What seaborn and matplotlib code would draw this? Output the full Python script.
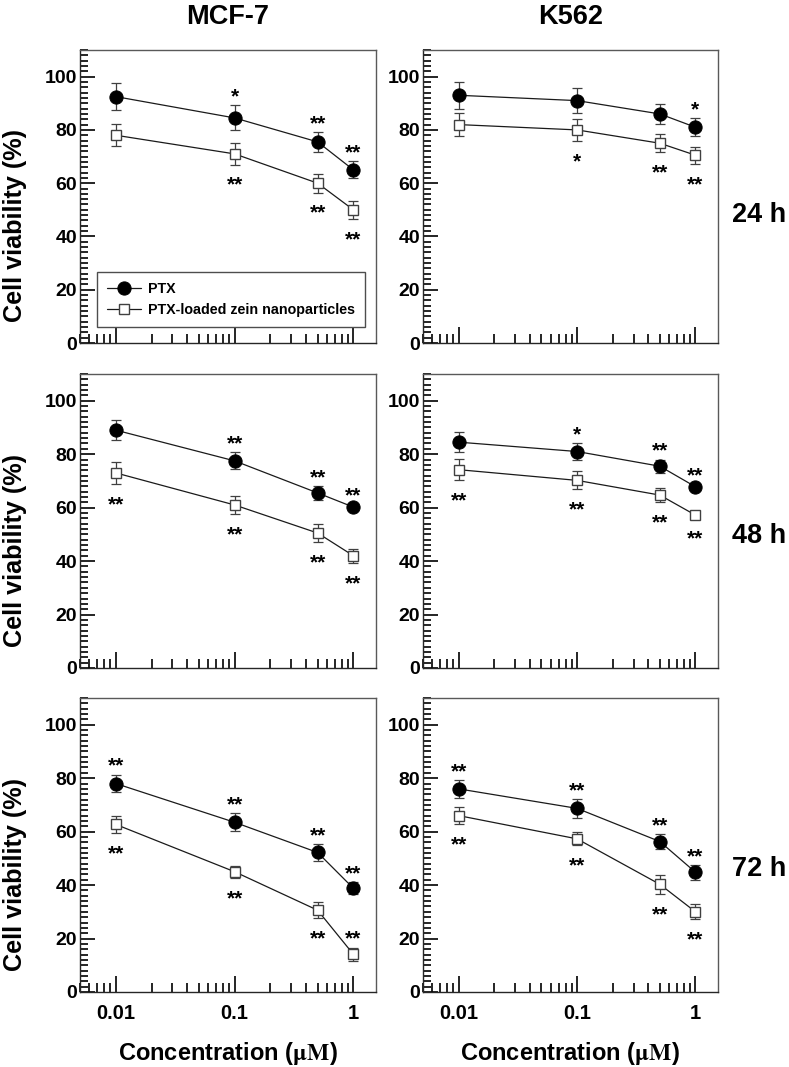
import numpy as np
import matplotlib
matplotlib.use("Agg")
import matplotlib.pyplot as plt
import seaborn as sns
from matplotlib.ticker import MultipleLocator, LogLocator, NullFormatter

# concentrations (uM)
conc = [0.01, 0.1, 0.5, 1]
conc_ticks = [0.01, 0.1, 1]
conc_labels = ["0.01", "0.1", "1"]

cell_lines = ["MCF-7", "K562"]
times = ["24 h", "48 h", "72 h"]
series_names = ["PTX", "PTX-loaded zein nanoparticles"]

# cell viability (%), mean and error
ptx_mcf7_24 = [92.5, 84.5, 75.5, 65.0]
ptx_mcf7_24_err = [5.0, 4.7, 3.8, 3.2]
np_mcf7_24 = [78.0, 71.0, 60.0, 50.0]
np_mcf7_24_err = [4.2, 4.0, 3.5, 3.3]
ptx_k562_24 = [93.0, 91.0, 86.0, 81.0]
ptx_k562_24_err = [5.0, 4.7, 3.8, 3.3]
np_k562_24 = [82.0, 80.0, 75.0, 70.5]
np_k562_24_err = [4.3, 4.0, 3.4, 3.2]

ptx_mcf7_48 = [89.0, 77.5, 65.5, 60.2]
ptx_mcf7_48_err = [3.7, 3.2, 2.6, 1.0]
np_mcf7_48 = [73.0, 61.0, 50.5, 42.0]
np_mcf7_48_err = [4.0, 3.4, 3.4, 2.6]
ptx_k562_48 = [84.5, 81.0, 75.5, 67.8]
ptx_k562_48_err = [3.7, 3.2, 2.5, 1.0]
np_k562_48 = [74.2, 70.2, 64.7, 57.2]
np_k562_48_err = [4.0, 3.4, 2.5, 1.0]

ptx_mcf7_72 = [78.0, 63.5, 52.2, 38.8]
ptx_mcf7_72_err = [3.3, 3.4, 3.0, 2.3]
np_mcf7_72 = [62.7, 45.0, 30.6, 14.1]
np_mcf7_72_err = [3.2, 2.2, 2.9, 2.5]
ptx_k562_72 = [76.0, 68.7, 56.3, 44.8]
ptx_k562_72_err = [3.3, 3.5, 2.8, 2.8]
np_k562_72 = [66.0, 57.3, 40.3, 30.0]
np_k562_72_err = [3.3, 2.4, 3.6, 2.8]

# significance marks (above PTX, below nanoparticles)
stars_ptx_mcf7_24 = ["", "*", "**", "**"]
stars_np_mcf7_24 = ["", "**", "**", "**"]
stars_ptx_k562_24 = ["", "", "", "*"]
stars_np_k562_24 = ["", "*", "**", "**"]
stars_ptx_mcf7_48 = ["", "**", "**", "**"]
stars_np_mcf7_48 = ["**", "**", "**", "**"]
stars_ptx_k562_48 = ["", "*", "**", "**"]
stars_np_k562_48 = ["**", "**", "**", "**"]
stars_ptx_mcf7_72 = ["**", "**", "**", "**"]
stars_np_mcf7_72 = ["**", "**", "**", "**"]
stars_ptx_k562_72 = ["**", "**", "**", "**"]
stars_np_k562_72 = ["**", "**", "**", "**"]

panels = [
    [(ptx_mcf7_24, ptx_mcf7_24_err, stars_ptx_mcf7_24, np_mcf7_24, np_mcf7_24_err, stars_np_mcf7_24),
     (ptx_k562_24, ptx_k562_24_err, stars_ptx_k562_24, np_k562_24, np_k562_24_err, stars_np_k562_24)],
    [(ptx_mcf7_48, ptx_mcf7_48_err, stars_ptx_mcf7_48, np_mcf7_48, np_mcf7_48_err, stars_np_mcf7_48),
     (ptx_k562_48, ptx_k562_48_err, stars_ptx_k562_48, np_k562_48, np_k562_48_err, stars_np_k562_48)],
    [(ptx_mcf7_72, ptx_mcf7_72_err, stars_ptx_mcf7_72, np_mcf7_72, np_mcf7_72_err, stars_np_mcf7_72),
     (ptx_k562_72, ptx_k562_72_err, stars_ptx_k562_72, np_k562_72, np_k562_72_err, stars_np_k562_72)],
]

sns.set_theme(style="ticks")
plt.rcParams["font.family"] = ["Liberation Sans", "DejaVu Sans"]
plt.rcParams["font.weight"] = "bold"
plt.rcParams["mathtext.fontset"] = "stix"
for key in ["text.color", "axes.labelcolor", "xtick.color", "ytick.color",
            "xtick.labelcolor", "ytick.labelcolor"]:
    plt.rcParams[key] = "black"

W, H = 789, 1067
fig = plt.figure(figsize=(W / 100, H / 100), dpi=100)

col_x = [(80, 296), (423, 295)]
row_y = [(50, 293), (374, 294), (698, 294)]
label_y = [222, 543, 876]


def add_stars(ax, vals, errs, stars, above):
    for x, v, e, s in zip(conc, vals, errs, stars):
        if not s:
            continue
        if above or v - e < 20:
            # marks for points near the floor also go over the bar
            ax.annotate(s, (x, v + e), xytext=(0, 6), textcoords="offset points",
                        ha="center", va="center", fontsize=15, fontweight="bold")
        else:
            ax.annotate(s, (x, v - e), xytext=(0, -15), textcoords="offset points",
                        ha="center", va="center", fontsize=15, fontweight="bold")


for r, row in enumerate(panels):
    for c, (p, pe, ps, n, ne, ns) in enumerate(row):
        x0, w = col_x[c]
        y0, h = row_y[r]
        ax = fig.add_axes([x0 / W, 1 - (y0 + h) / H, w / W, h / H])
        ax.set_xscale("log")

        ax.errorbar(conc, p, yerr=pe, fmt="none", ecolor="0.25", elinewidth=0.9,
                    capsize=3.5, capthick=0.9, zorder=2)
        ax.errorbar(conc, n, yerr=ne, fmt="none", ecolor="0.25", elinewidth=0.9,
                    capsize=3.5, capthick=0.9, zorder=2)
        sns.lineplot(x=conc, y=p, ax=ax, color="0.1", lw=0.9, marker="o",
                     markersize=9.5, markerfacecolor="black", markeredgecolor="black",
                     label=series_names[0] if (r, c) == (0, 0) else None,
                     legend=False, zorder=3)
        sns.lineplot(x=conc, y=n, ax=ax, color="0.1", lw=0.9, marker="s",
                     markersize=7.5, markerfacecolor="white", markeredgecolor="0.25",
                     markeredgewidth=1.0,
                     label=series_names[1] if (r, c) == (0, 0) else None,
                     legend=False, zorder=3)
        add_stars(ax, p, pe, ps, True)
        add_stars(ax, n, ne, ns, False)

        ax.set_xlim(0.005, 1.55)
        ax.set_ylim(0, 110)
        ax.set_xticks(conc_ticks)
        ax.xaxis.set_minor_locator(LogLocator(base=10, subs=np.arange(2, 10)))
        ax.xaxis.set_minor_formatter(NullFormatter())
        if r == 2:
            ax.set_xticklabels(conc_labels)
            ax.set_xlabel(r"Concentration ($\mathrm{\mu M}$)", fontsize=17,
                          fontweight="bold")
            ax.xaxis.set_label_coords(0.5, -0.163)
            ax.xaxis.label.set_va("top")
        else:
            ax.set_xticklabels([])
        ax.set_yticks(range(0, 101, 20))
        ax.yaxis.set_minor_locator(MultipleLocator(2))
        ax.tick_params(axis="both", which="both", direction="in", top=False,
                       right=False, color="black")
        ax.tick_params(axis="y", which="major", length=11, width=1.2, pad=2,
                       labelsize=14)
        ax.tick_params(axis="y", which="minor", length=5.8, width=1.2)
        ax.tick_params(axis="x", which="major", length=11.5, width=1.2, pad=8.5,
                       labelsize=14.5)
        ax.tick_params(axis="x", which="minor", length=6.5, width=1.2)
        for lab in ax.get_xticklabels() + ax.get_yticklabels():
            lab.set_fontweight("bold")
        for side in ["top", "right"]:
            ax.spines[side].set_color("0.35")
            ax.spines[side].set_linewidth(1.0)
        for side in ["left", "bottom"]:
            ax.spines[side].set_color("0.15")
            ax.spines[side].set_linewidth(1.0)

        if c == 0:
            ax.set_ylabel("Cell viability (%)", fontsize=18.2, fontweight="bold")
            ax.yaxis.set_label_coords(-0.18, 0.40)

        if (r, c) == (0, 0):
            ax.legend(loc="lower left", bbox_to_anchor=(0.057, 0.055),
                      borderaxespad=0, frameon=True, fancybox=False,
                      edgecolor="0.3", framealpha=1,
                      handlelength=2.4, handletextpad=0.5, borderpad=0.7,
                      labelspacing=0.5, prop={"weight": "bold", "size": 10.3})

for c, name in enumerate(cell_lines):
    x0, w = col_x[c]
    fig.text((x0 + w / 2) / W, 1 - 24 / H, name, ha="center", va="baseline",
             fontsize=19.5, fontweight="bold")

for r, t in enumerate(times):
    fig.text(732 / W, 1 - label_y[r] / H, t, ha="left", va="baseline",
             fontsize=19.5, fontweight="bold")

fig.savefig("out.png", dpi=100)
